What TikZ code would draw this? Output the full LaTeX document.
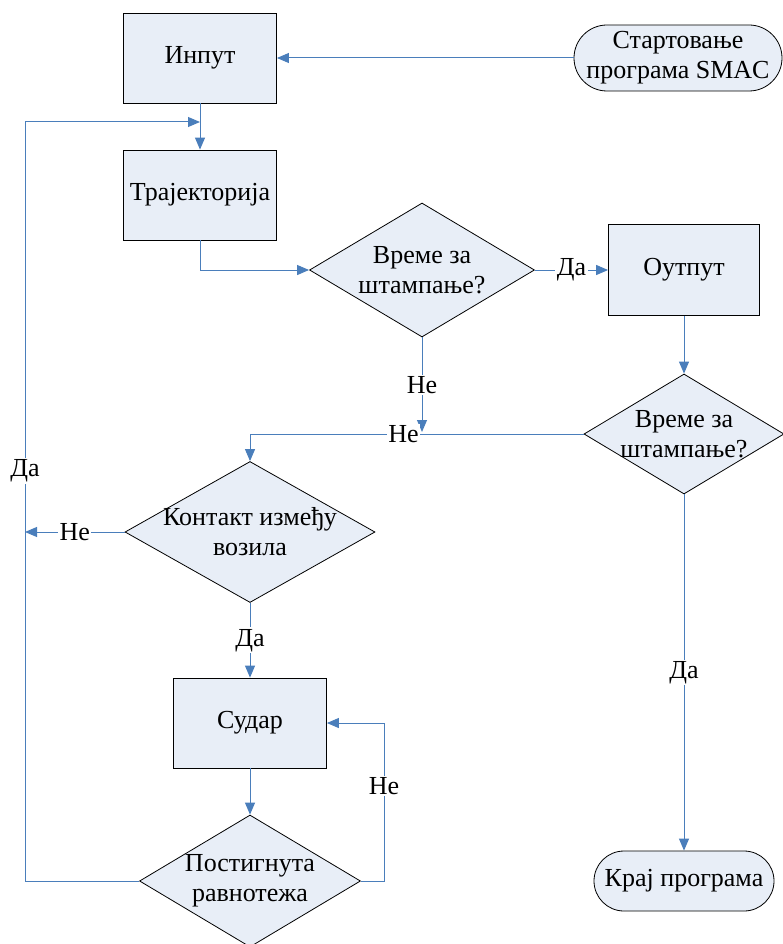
\documentclass[tikz,border=0pt]{standalone}
\usepackage{fontspec}
\setmainfont{Liberation Serif}
\usetikzlibrary{arrows.meta,shapes.geometric}
\definecolor{flowline}{HTML}{4A7EBB}
\definecolor{flowfill}{HTML}{E8EEF7}

\begin{document}
\begin{tikzpicture}[x=1pt,y=-1pt,
  every node/.style={font=\fontsize{26}{30}\selectfont},
  proc/.style={draw,fill=flowfill,line width=0.8pt,minimum width=153pt,minimum height=90pt,inner sep=0pt},
  term/.style={draw,fill=flowfill,line width=0.8pt,rounded corners=30pt,inner sep=0pt,align=center},
  dec/.style={diamond,draw,fill=flowfill,line width=0.8pt,inner sep=0pt},
  txt/.style={align=center,inner sep=0pt},
  lbl/.style={fill=white,inner sep=1.5pt},
  flow/.style={draw=flowline,line width=1pt,-{Triangle[length=12pt,width=10pt]}}]
\useasboundingbox (0,0) rectangle (783,944);
\node[term,minimum width=208pt,minimum height=66pt,rounded corners=33pt] (start) at (678,58) {Стартовање\\програма SMAC};
\node[proc] (inp) at (200,58) {Инпут};
\node[proc] (traj) at (200,195) {Трајекторија};
\node[dec,minimum width=225pt,minimum height=134pt] (d1) at (422,270) {};
\node[txt] (d1t) at (d1) {Време за\\штампање?};
\node[proc,minimum width=151pt,minimum height=91pt] (out) at (684,270) {Оутпут};
\node[dec,minimum width=200pt,minimum height=120pt] (d2) at (684,434) {};
\node[txt] (d2t) at (d2) {Време за\\штампање?};
\node[dec,minimum width=250pt,minimum height=141pt] (kont) at (250,532) {};
\node[txt] (kontt) at (kont) {Контакт између\\возила};
\node[proc] (sud) at (250,723) {Судар};
\node[dec,minimum width=221pt,minimum height=132pt] (post) at (250,881) {};
\node[txt] (postt) at (post) {Постигнута\\равнотежа};
\node[term,minimum width=180pt,minimum height=60pt] (kraj) at (684,881) {Крај програма};
\coordinate (j1) at (422,432);
\coordinate (lx) at (25,532);
\coordinate (ll) at (25,881);
\coordinate (fb) at (200,122);
\coordinate (rl) at (384,881);
\draw[flow] (start.west) -- (inp.east);
\draw[flow] (inp.south) -- (traj.north);
\draw[flow] (traj.south) |- (d1.west);
\draw[flow] (d1.east) -- node[lbl]{Да} (out.west);
\draw[flow] (out.south) -- (d2.north);
\draw[flow] (d1.south) -- node[lbl]{Не} (j1);
\draw[flow] (d2.west) -| node[lbl,pos=0.27]{Не} (kont.north);
\draw[flow] (kont.west) -- node[lbl]{Не} (lx);
\draw[flow] (kont.south) -- node[lbl]{Да} (sud.north);
\draw[flow] (sud.south) -- (post.north);
\draw[flow] (post.east) -- (rl) |- node[lbl,pos=0.3]{Не} (sud.east);
\draw[flow] (post.west) -- (ll) |- node[lbl,pos=0.27]{Да} (fb);
\draw[flow] (d2.south) -- node[lbl]{Да} (kraj.north);
\end{tikzpicture}
\end{document}
